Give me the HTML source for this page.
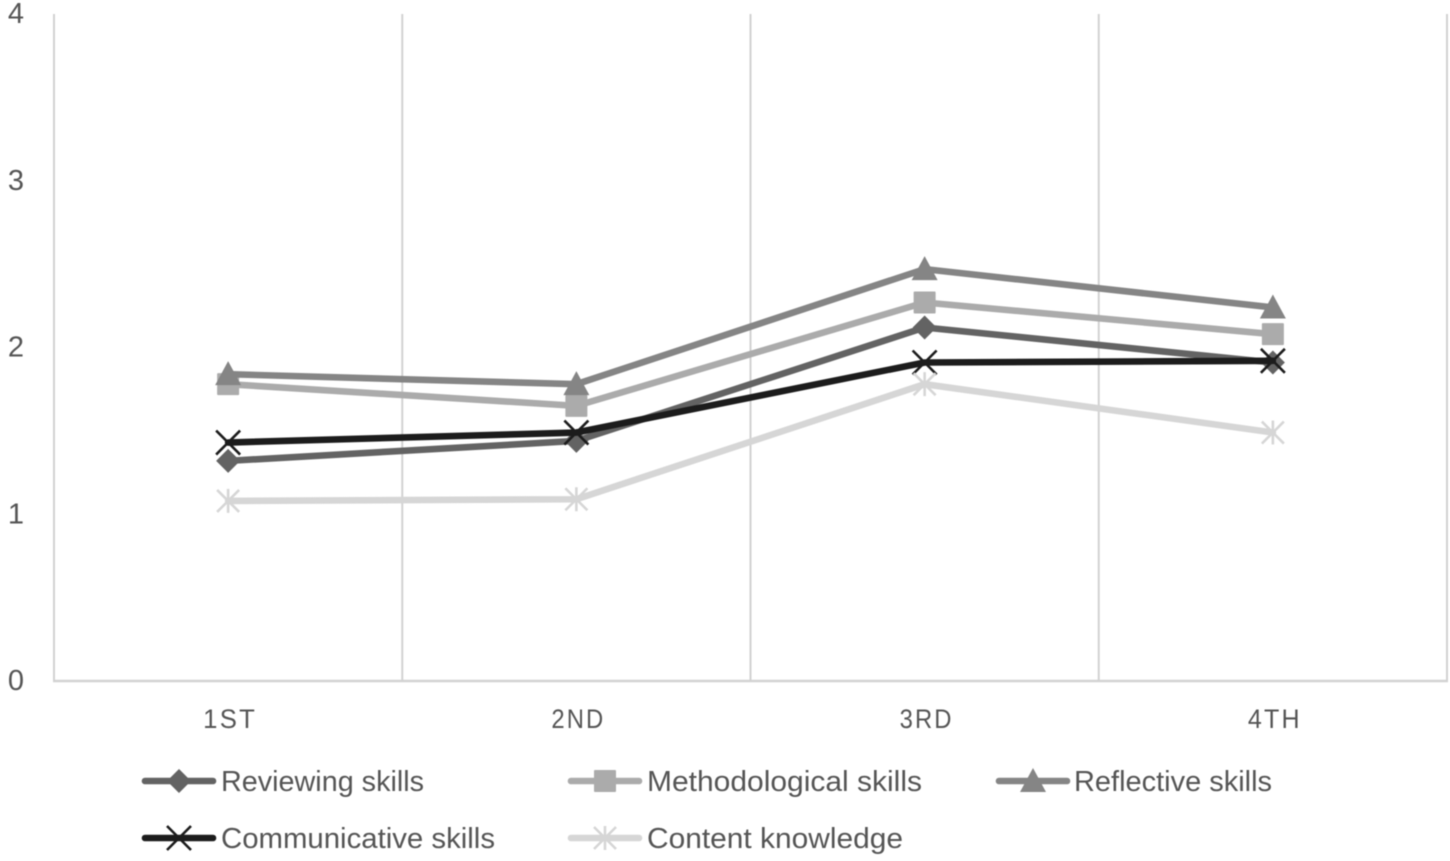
<!DOCTYPE html>
<html lang="en">
<head>
<meta charset="utf-8">
<title>Skills by year</title>
<style>
html,body{margin:0;padding:0;background:#fff;width:1450px;height:861px;overflow:hidden}
svg{display:block;filter:blur(0.6px)}
text{font-family:"Liberation Sans",sans-serif;fill:#555555}
</style>
</head>
<body>
<svg id="chart" xmlns="http://www.w3.org/2000/svg" width="1450" height="861" viewBox="0 0 1450 861"></svg>
<script>
const categories = ['1ST', '2ND', '3RD', '4TH'];
const yTicks = [0, 1, 2, 3, 4];
const seriesNames = ['Reviewing skills', 'Methodological skills', 'Reflective skills', 'Communicative skills', 'Content knowledge'];
const reviewing = [1.32, 1.44, 2.12, 1.91];
const methodological = [1.78, 1.65, 2.27, 2.08];
const reflective = [1.84, 1.78, 2.47, 2.24];
const communicative = [1.43, 1.49, 1.91, 1.92];
const content = [1.08, 1.09, 1.78, 1.49];

const NS = 'http://www.w3.org/2000/svg';
const svg = document.getElementById('chart');
const plot = {left: 54, right: 1447, top: 14, bottom: 681};
const yMax = 4;
const colors = ['#636363', '#ababab', '#858585', '#1c1c1c', '#d6d6d6'];
const markers = ['diamond', 'square', 'triangle', 'cross', 'star'];
const seriesValues = [reviewing, methodological, reflective, communicative, content];
const legendLabelWidths = [203, 275, 198, 274, 256];
const legendSlots = [[143, 781], [569, 781], [997, 781], [143, 838], [569, 838]];

function xScale(i) {
  const band = (plot.right - plot.left) / categories.length;
  return plot.left + band * (i + 0.5);
}
function yScale(v) {
  return plot.bottom - (v / yMax) * (plot.bottom - plot.top);
}
function el(tag, attrs, parent) {
  const node = document.createElementNS(NS, tag);
  for (const k in attrs) node.setAttribute(k, attrs[k]);
  (parent || svg).appendChild(node);
  return node;
}
function drawMarker(kind, x, y, color, parent) {
  let m;
  if (kind === 'diamond') {
    m = el('polygon', {points: [[x, y - 12], [x + 12, y], [x, y + 12], [x - 12, y]].join(' '), fill: color}, parent);
  } else if (kind === 'square') {
    m = el('rect', {x: x - 11, y: y - 11, width: 22, height: 22, rx: 1, fill: color}, parent);
  } else if (kind === 'triangle') {
    m = el('polygon', {points: [[x, y - 13], [x + 13, y + 11], [x - 13, y + 11]].join(' '), fill: color}, parent);
  } else if (kind === 'cross') {
    m = el('path', {d: `M${x - 12} ${y - 12}L${x + 12} ${y + 12}M${x + 12} ${y - 12}L${x - 12} ${y + 12}`, stroke: color, 'stroke-width': 2.6, fill: 'none'}, parent);
  } else {
    m = el('path', {d: `M${x - 11} ${y - 11}L${x + 11} ${y + 11}M${x + 11} ${y - 11}L${x - 11} ${y + 11}M${x} ${y - 12}L${x} ${y + 12}`, stroke: color, 'stroke-width': 2.6, fill: 'none'}, parent);
  }
  return m;
}

// Vertical gridlines at category boundaries
for (let i = 0; i <= categories.length; i++) {
  const gx = plot.left + (plot.right - plot.left) * i / categories.length;
  const g = el('line', {x1: gx, x2: gx, y1: plot.top, y2: plot.bottom, stroke: '#d2d2d2', 'stroke-width': 2});
  
  
}
// X axis line
const xAxis = el('line', {x1: plot.left - 1, x2: plot.right + 1, y1: plot.bottom, y2: plot.bottom, stroke: '#d2d2d2', 'stroke-width': 2.4});



// Y tick labels
yTicks.forEach(function (t) {
  const lab = el('text', {x: 16, y: yScale(t) + 9, 'text-anchor': 'middle', 'font-size': 29});
  lab.textContent = t;
  
  
});
// X tick labels
categories.forEach(function (c, i) {
  const lab = el('text', {x: xScale(i) + 2, y: 728, 'text-anchor': 'middle', 'font-size': 27, 'letter-spacing': 2.4, textLength: 54, lengthAdjust: 'spacingAndGlyphs'});
  lab.textContent = c;
  
  
});

// Series lines and markers
seriesValues.forEach(function (vals, s) {
  const group = el('g', {});
  
  
  const pts = vals.map(function (v, i) { return xScale(i) + ',' + yScale(v); }).join(' ');
  const line = el('polyline', {points: pts, fill: 'none', stroke: colors[s], 'stroke-width': 6.6, 'stroke-linejoin': 'round', 'stroke-linecap': 'round'}, group);
  
  
  vals.forEach(function (v, i) {
    const m = drawMarker(markers[s], xScale(i), yScale(v), colors[s], group);
    
    
  });
});

// Legend
seriesNames.forEach(function (name, s) {
  const lx = legendSlots[s][0];
  const ly = legendSlots[s][1];
  const entry = el('g', {});
  
  
  const swatch = el('line', {x1: lx + 2, x2: lx + 70, y1: ly, y2: ly, stroke: colors[s], 'stroke-width': 6.6, 'stroke-linecap': 'round'}, entry);
  
  
  const mk = drawMarker(markers[s], lx + 36, ly, colors[s], entry);
  
  
  const textX = s === 2 ? lx + 77 : lx + 78;
  const lab = el('text', {x: textX, y: ly + 10, 'font-size': 29, textLength: legendLabelWidths[s], lengthAdjust: 'spacingAndGlyphs'}, entry);
  lab.textContent = name;
  
  
});
</script>
</body>
</html>
